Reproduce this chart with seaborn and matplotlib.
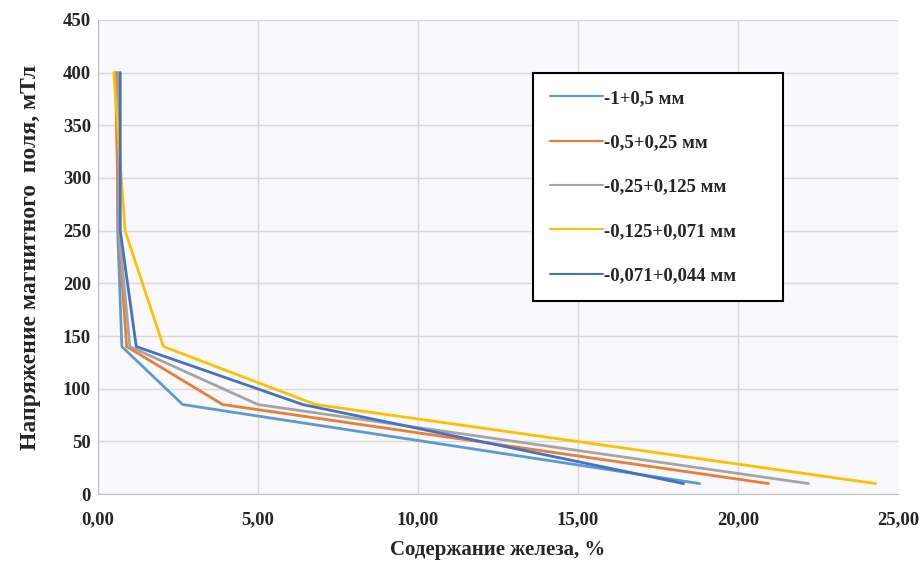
import pandas as pd
import matplotlib.pyplot as plt
import seaborn as sns
from matplotlib.ticker import FuncFormatter

# field strength, mT (same for every fraction)
field = [400, 250, 140, 85, 10]

fractions = ['-1+0,5 мм', '-0,5+0,25 мм', '-0,25+0,125 мм',
             '-0,125+0,071 мм', '-0,071+0,044 мм']

# iron content, %
fe_1_05 = [0.60, 0.62, 0.75, 2.65, 18.8]
fe_05_025 = [0.55, 0.65, 0.90, 3.90, 20.95]
fe_025_0125 = [0.65, 0.66, 1.00, 5.0, 22.2]
fe_0125_0071 = [0.50, 0.85, 2.05, 6.8, 24.3]
fe_0071_0044 = [0.70, 0.70, 1.20, 6.4, 18.3]

colors = ['#5B9BD5', '#ED7D31', '#A5A5A5', '#FFC000', '#4472C4']

rows = []
for name, vals in zip(fractions, [fe_1_05, fe_05_025, fe_025_0125, fe_0125_0071, fe_0071_0044]):
    for f, v in zip(field, vals):
        rows.append({'fraction': name, 'fe': v, 'field': f})
df = pd.DataFrame(rows)

sns.set_style('whitegrid')
plt.rcParams['font.family'] = ['Liberation Serif', 'DejaVu Serif']

fig = plt.figure(figsize=(9.23, 5.66), dpi=100)
ax = fig.add_axes([0.106, 0.127, 0.867, 0.838])
ax.set_facecolor('#F8F8FD')

sns.lineplot(data=df, x='fe', y='field', hue='fraction', palette=colors,
             estimator=None, sort=False, linewidth=2, ax=ax)

ax.set_xlim(0, 25)
ax.set_ylim(0, 450)
ax.set_xticks([0, 5, 10, 15, 20, 25])
ax.set_yticks(range(0, 451, 50))
ax.xaxis.set_major_formatter(FuncFormatter(lambda v, p: f'{v:.2f}'.replace('.', ',')))
ax.grid(color='#D9D9D9', linewidth=1)
for s in ['top', 'right']:
    ax.spines[s].set_visible(False)
for s in ['left', 'bottom']:
    ax.spines[s].set_color('#BFBFBF')
ax.tick_params(axis='both', length=0, labelsize=13.5)
ax.tick_params(axis='x', pad=12)
ax.tick_params(axis='y', pad=5)
for t in ax.get_xticklabels() + ax.get_yticklabels():
    t.set_fontweight('bold')

ax.set_xlabel('Содержание железа, %', fontsize=15, fontweight='bold', labelpad=9)
ax.set_ylabel('Напряжение магнитного  поля, мТл', fontsize=17, fontweight='bold', labelpad=16)

leg = ax.legend(loc='upper left', bbox_to_anchor=(0.544, 0.408, 0.3125, 0.48),
                mode='expand', frameon=True,
                fancybox=False, edgecolor='black', framealpha=1,
                prop={'weight': 'bold', 'size': 13.5}, labelspacing=1.45,
                handlelength=2.8, handletextpad=0.1, borderpad=0.9,
                borderaxespad=0)
leg.get_frame().set_linewidth(1.5)
for line in leg.get_lines():
    line.set_linewidth(1.5)

fig.savefig('out.png', dpi=100)
